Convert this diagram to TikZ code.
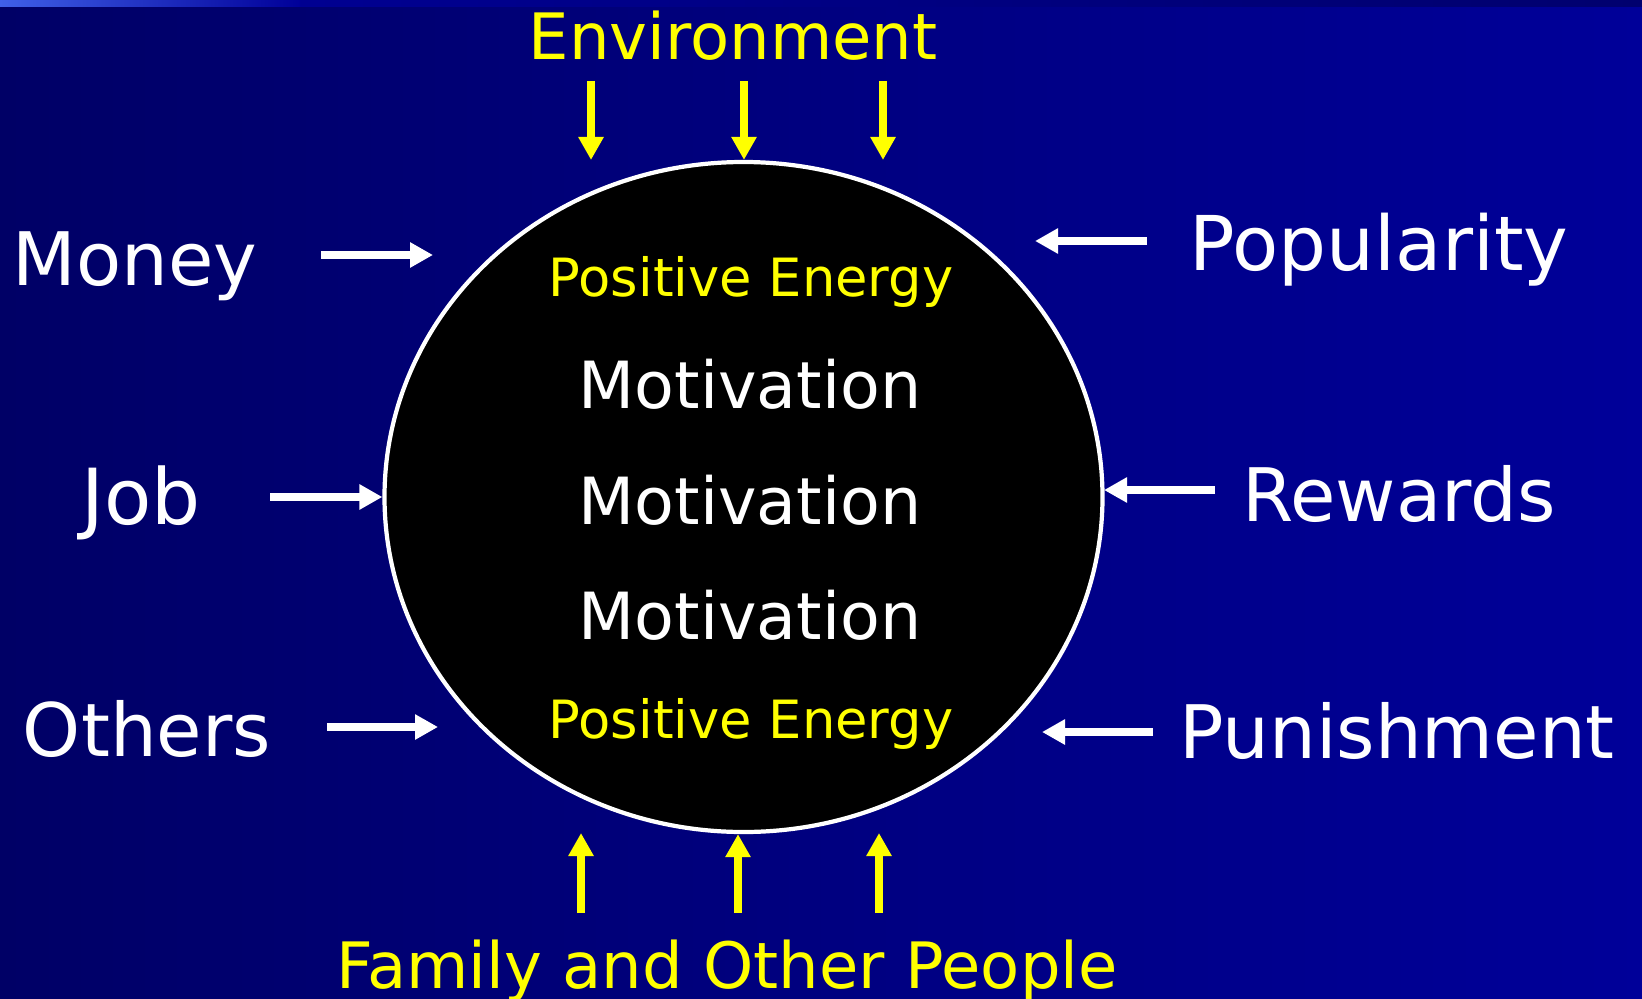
\documentclass[tikz,border=0pt]{standalone}
\usepackage{fontspec}
\setmainfont{DejaVu Sans}
\usetikzlibrary{shapes.geometric, arrows.meta}

\definecolor{navyleft}{RGB}{0,0,102}
\definecolor{navyright}{RGB}{0,0,153}
\definecolor{stripleft}{RGB}{64,96,232}
\definecolor{stripdark}{RGB}{0,0,110}
\definecolor{signyellow}{RGB}{255,255,0}

\tikzset{
    force/.style={line width=2.3pt, -{Triangle[width=2.4mm, length=2.3mm]}},
    bigword/.style={anchor=base, text=white, font=\fontsize{21}{25}\selectfont},
    sideword/.style={anchor=base, text=signyellow, font=\fontsize{18.2}{22}\selectfont},
    innerword/.style={anchor=base, text=white, font=\fontsize{18.5}{22}\selectfont},
    energyword/.style={anchor=base, text=signyellow, font=\fontsize{15}{18}\selectfont}
}

\begin{document}
\begin{tikzpicture}[x=0.1mm, y=-0.1mm]
    \useasboundingbox (0,0) rectangle (1642,998);

    % Background
    \fill[left color=navyleft, right color=navyright] (0,0) rectangle (1642,998);
    \fill[left color=navyright, right color=stripdark] (0,0) rectangle (1642,7);
    \fill[left color=stripleft, right color=navyright] (0,0) rectangle (300,7);

    % Central circle
    \node[ellipse, draw=white, fill=black, line width=1.2pt, inner sep=0pt,
          minimum width=718*0.1mm, minimum height=670*0.1mm] (core) at (743.5,497) {};

    % Text inside
    \node[energyword] (posTop) at (751,296) {Positive Energy};
    \node[innerword] (motA) at (750,408) {Motivation};
    \node[innerword] (motB) at (750,524) {Motivation};
    \node[innerword] (motC) at (750,639) {Motivation};
    \node[energyword] (posBot) at (751,738) {Positive Energy};

    % --- Top and bottom (yellow) ---
    \node[sideword] (env) at (733,60) {Environment};
    \node[sideword] (fam) at (727,988) {Family and Other People};

    \foreach \i/\x in {1/591, 3/883} {
        \coordinate (envS\i) at (\x,81);
        \coordinate (envE\i) at (\x,160);
        \draw[force, signyellow] (envS\i) -- (envE\i);
    }
    \coordinate (envS2) at (744,81);
    \draw[force, signyellow] (envS2) -- (envS2 |- core.north);

    \foreach \i/\x in {1/581, 3/879} {
        \coordinate (famS\i) at (\x,913);
        \coordinate (famE\i) at (\x,833);
        \draw[force, signyellow] (famS\i) -- (famE\i);
    }
    \coordinate (famS2) at (738,913);
    \draw[force, signyellow] (famS2) -- (famS2 |- core.south);

    % --- Left side ---
    \node[bigword] (money) at (135,285) {Money};
    \node[bigword, font=\fontsize{22}{26}\selectfont] (job) at (141,524) {Job};
    \node[bigword] (others) at (147,756) {Others};

    \coordinate (moneyS) at (321,255);
    \coordinate (moneyE) at (433,255);
    \draw[force, white] (moneyS) -- (moneyE);
    \coordinate (jobS) at (270,497);
    \draw[force, white] (jobS) -- (core.west);
    \coordinate (othersS) at (327,727);
    \coordinate (othersE) at (438,727);
    \draw[force, white] (othersS) -- (othersE);

    % --- Right side ---
    \node[bigword, font=\fontsize{21.5}{26}\selectfont] (pop) at (1379,270) {Popularity};
    \node[bigword] (rew) at (1399,521) {Rewards};
    \node[bigword] (pun) at (1397,758) {Punishment};

    \coordinate (popS) at (1147,241);
    \coordinate (popE) at (1035,241);
    \draw[force, white] (popS) -- (popE);
    \coordinate (rewS) at (1215,490);
    \coordinate (rewE) at (1104,490);
    \draw[force, white] (rewS) -- (rewE);
    \coordinate (punS) at (1153,732);
    \coordinate (punE) at (1042,732);
    \draw[force, white] (punS) -- (punE);

\end{tikzpicture}
\end{document}
